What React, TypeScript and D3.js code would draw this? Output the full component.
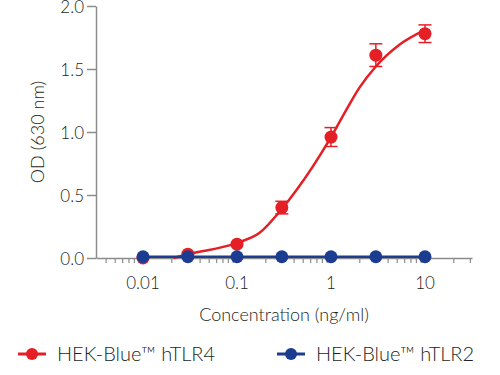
import { useRef, useEffect } from 'react'
import * as d3 from 'd3'

const concentrations = [0.01, 0.03, 0.1, 0.3, 1, 3, 10]
const tlr4Values = [0.0, 0.03, 0.11, 0.4, 0.96, 1.61, 1.78]
const tlr4Errors = [0, 0, 0, 0.05, 0.075, 0.09, 0.07]
const tlr2Values = [0.01, 0.01, 0.01, 0.01, 0.01, 0.01, 0.01]

// fitted curve
const fitConc = [0.021, 0.03, 0.1, 0.174, 0.3, 0.43, 1.0, 1.44, 2.0, 3.0, 5.3, 10]
const fitValues = [0.0, 0.03, 0.12, 0.2, 0.39, 0.54, 0.96, 1.17, 1.35, 1.52, 1.69, 1.81]

const yTicks = [0, 0.5, 1.0, 1.5, 2.0]
const xTicks = [0.01, 0.1, 1, 10]
const seriesNames = ['HEK-Blue™ hTLR4', 'HEK-Blue™ hTLR2']

const RED = '#e41f26'
const BLUE = '#1b3c91'
const AXIS = '#8c8c8c'
const TEXT = '#231f20'
const FONT = 'Lato, "Open Sans", sans-serif'
const WEIGHT = 300

const width = 500
const height = 375
const margin = { left: 96, right: 28, top: 6, bottom: 117 }

const App = () => {
  const elRef = useRef<SVGSVGElement>(null)

  useEffect(() => {
    const svg = d3.select(elRef.current as SVGSVGElement)
    svg.selectAll('*').remove()

    const x = d3
      .scaleLog()
      .domain([Math.pow(10, -2.5), Math.pow(10, 1.5)])
      .range([margin.left, width - margin.right])
    const y = d3
      .scaleLinear()
      .domain([0, 2])
      .range([height - margin.bottom, margin.top])

    const g = svg.append('g')

    // x axis
    const minor: number[] = []
    for (let e = -3; e <= 1; e++) {
      for (let m = 1; m <= 9; m++) {
        const v = m * Math.pow(10, e)
        const [d0, d1] = x.domain()
        if (v >= d0 && v <= d1) minor.push(v)
      }
    }
    const xAxis = g
      .append('g')
      .attr('transform', `translate(0,${y(0)})`)
      .call(
        d3
          .axisBottom(x)
          .tickValues(minor)
          .tickSize(5)
          .tickSizeOuter(0)
          .tickFormat(() => '')
      )
    xAxis.select('.domain').attr('stroke', AXIS).attr('stroke-width', 1.5)
    xAxis.selectAll('.tick line').attr('stroke', AXIS).attr('stroke-width', 1.2)

    g.append('g')
      .selectAll('text')
      .data(xTicks)
      .enter()
      .append('text')
      .attr('x', (d) => x(d))
      .attr('y', 289)
      .attr('text-anchor', 'middle')
      .attr('font-family', FONT)
      .attr('font-weight', WEIGHT)
      .attr('font-size', 17)
      .attr('fill', TEXT)
      .text((d) => String(d))

    // y axis
    const yAxis = g
      .append('g')
      .attr('transform', `translate(${margin.left},0)`)
      .call(
        d3
          .axisLeft(y)
          .tickValues(yTicks)
          .tickSize(9)
          .tickSizeOuter(0)
          .tickPadding(3)
          .tickFormat(d3.format('.1f'))
      )
    yAxis.select('.domain').attr('stroke', AXIS).attr('stroke-width', 1.5)
    yAxis.selectAll('.tick line').attr('stroke', AXIS).attr('stroke-width', 1.5)
    yAxis
      .selectAll('.tick text')
      .attr('font-family', FONT)
      .attr('font-weight', WEIGHT)
      .attr('font-size', 17)
      .attr('fill', TEXT)
      .attr('dy', '0.4em')

    // axis titles
    g.append('text')
      .attr('x', (margin.left + width - margin.right) / 2)
      .attr('y', 321)
      .attr('text-anchor', 'middle')
      .attr('font-family', FONT)
      .attr('font-weight', WEIGHT)
      .attr('font-size', 18)
      .attr('fill', TEXT)
      .text('Concentration (ng/ml)')

    g.append('text')
      .attr('transform', `translate(44,${y(1.0)}) rotate(-90)`)
      .attr('text-anchor', 'middle')
      .attr('font-family', FONT)
      .attr('font-weight', WEIGHT)
      .attr('font-size', 18)
      .attr('fill', TEXT)
      .text('OD (630 nm)')

    // fitted red curve
    const line = d3
      .line<number>()
      .x((_, i) => x(fitConc[i]))
      .y((d) => y(d))
      .curve(d3.curveMonotoneX)
    g.append('path')
      .datum(fitValues)
      .attr('d', line)
      .attr('fill', 'none')
      .attr('stroke', RED)
      .attr('stroke-width', 2.5)

    // error bars
    const eb = g.append('g').attr('stroke', RED).attr('stroke-width', 1.5)
    tlr4Values.forEach((v, i) => {
      const e = tlr4Errors[i]
      if (!e) return
      const cx = x(concentrations[i])
      eb.append('line')
        .attr('x1', cx).attr('x2', cx)
        .attr('y1', y(v - e)).attr('y2', y(v + e))
      ;[v - e, v + e].forEach((b) => {
        eb.append('line')
          .attr('x1', cx - 6.5).attr('x2', cx + 6.5)
          .attr('y1', y(b)).attr('y2', y(b))
      })
    })

    g.append('g')
      .selectAll('circle')
      .data(tlr4Values)
      .enter()
      .append('circle')
      .attr('cx', (_, i) => x(concentrations[i]))
      .attr('cy', (d) => y(d))
      .attr('r', 6.5)
      .attr('fill', RED)

    // blue series
    const blueLine = d3
      .line<number>()
      .x((_, i) => x(concentrations[i]))
      .y((d) => y(d))
    g.append('path')
      .datum(tlr2Values)
      .attr('d', blueLine)
      .attr('fill', 'none')
      .attr('stroke', BLUE)
      .attr('stroke-width', 2.5)
    g.append('g')
      .selectAll('circle')
      .data(tlr2Values)
      .enter()
      .append('circle')
      .attr('cx', (_, i) => x(concentrations[i]))
      .attr('cy', (d) => y(d))
      .attr('r', 6.5)
      .attr('fill', BLUE)

    // legend
    const legendX = [18, 277]
    const legendColors = [RED, BLUE]
    seriesNames.forEach((name, i) => {
      const lg = g.append('g').attr('transform', `translate(${legendX[i]},354)`)
      lg.append('line')
        .attr('x1', 0).attr('x2', 28)
        .attr('stroke', legendColors[i])
        .attr('stroke-width', 3)
      lg.append('circle').attr('cx', 14).attr('r', 6).attr('fill', legendColors[i])
      lg.append('text')
        .attr('x', 39)
        .attr('dy', '0.36em')
        .attr('font-family', FONT)
        .attr('font-weight', WEIGHT)
        .attr('font-size', 20)
        .attr('fill', TEXT)
        .text(name)
    })
  }, [])

  return (
    <svg
      ref={elRef}
      width={width}
      height={height}
      style={{ position: 'absolute', left: 0, top: 0, background: '#fff' }}
    />
  )
}

export default App
